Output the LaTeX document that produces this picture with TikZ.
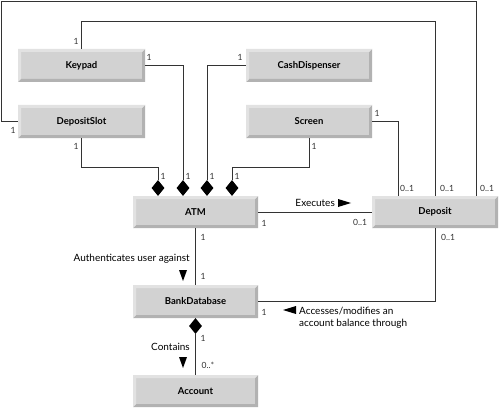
\documentclass[tikz,border=0pt]{standalone}
\usepackage{fontspec}
\setmainfont{Lato}
\usetikzlibrary{shapes.geometric}
\definecolor{boxgray}{HTML}{D2D2D2}
\definecolor{boxlight}{HTML}{E2E2E2}
\definecolor{boxdark}{HTML}{B2B2B2}
\definecolor{linecol}{HTML}{333333}
\begin{document}
\begin{tikzpicture}[x=1pt,y=-1pt,
  umlbox/.style={minimum width=126pt, minimum height=33pt, inner sep=0pt, fill=boxgray,
    font=\bfseries\fontsize{9.5}{11}\selectfont,
    path picture={
      \fill[boxdark] (path picture bounding box.south west) -- (path picture bounding box.south east)
        -- (path picture bounding box.north east) -- ([xshift=-3pt,yshift=-3pt]path picture bounding box.north east)
        -- ([xshift=-3pt,yshift=3pt]path picture bounding box.south east) -- ([xshift=3pt,yshift=3pt]path picture bounding box.south west) -- cycle;
      \fill[boxlight] (path picture bounding box.south west) -- (path picture bounding box.north west)
        -- (path picture bounding box.north east) -- ([xshift=-3pt,yshift=-3pt]path picture bounding box.north east)
        -- ([xshift=3pt,yshift=-3pt]path picture bounding box.north west) -- ([xshift=3pt,yshift=3pt]path picture bounding box.south west) -- cycle;
    }},
  dia/.style={diamond, fill=black, minimum width=13pt, minimum height=16pt, inner sep=0pt},
  conn/.style={draw=linecol, line width=0.8pt},
  mult/.style={font=\fontsize{8.5}{10}\selectfont, inner sep=0pt, text=linecol},
  lbl/.style={font=\fontsize{10}{12.5}\selectfont, inner sep=0pt},
  tri/.style={fill=black}
]
\useasboundingbox (0,0) rectangle (500,409);

% boxes
\node[umlbox, minimum width=127pt] (keypad) at (81.5,65.5) {Keypad};
\node[umlbox, minimum width=127pt] (depositslot) at (81.5,121.5) {DepositSlot};
\node[umlbox] (cashdisp) at (309,65.5) {CashDispenser};
\node[umlbox] (screen) at (309,121.5) {Screen};
\node[umlbox, minimum width=125pt, minimum height=32pt] (atm) at (195.5,212) {ATM};
\node[umlbox, minimum height=32pt] (deposit) at (435,212) {Deposit};
\node[umlbox, minimum width=125pt] (bankdb) at (195.5,301.5) {BankDatabase};
\node[umlbox, minimum width=125pt, minimum height=32pt] (account) at (195.5,391) {Account};

% diamonds
\node[dia] (d1) at (158,188) {};
\node[dia] (d2) at (183,188) {};
\node[dia] (d3) at (207,188) {};
\node[dia] (d4) at (232,188) {};
\node[dia] (d5) at (195.5,326) {};

% connectors
\draw[conn] (depositslot.west) -- (1.5,121.5) -- (1.5,1.5) -- (476,1.5) -- ([xshift=41pt]deposit.north);
\draw[conn] (keypad.north) -- (81.5,21) -- (435,21) -- (deposit.north);
\draw[conn] (screen.east) -- (398,121.5) -- ([xshift=-37pt]deposit.north);
\draw[conn] (keypad.east) -| (d2.north);
\draw[conn] (cashdisp.west) -| (d3.north);
\draw[conn] (depositslot.south) |- (158,167) -- (d1.north);
\draw[conn] (screen.south) |- (232,167) -- (d4.north);
\draw[conn] (atm.east) -- (deposit.west);
\draw[conn] (atm.south) -- (bankdb.north);
\draw[conn] (deposit.south) |- (bankdb.east);
\draw[conn] (d5.south) -- (account.north);

% multiplicities
\node[mult] at (13,130) {1};
\node[mult] at (76,41) {1};
\node[mult] at (149,57) {1};
\node[mult] at (240,57) {1};
\node[mult] at (76,146) {1};
\node[mult] at (163,176) {1};
\node[mult] at (188,176) {1};
\node[mult] at (212,176) {1};
\node[mult] at (237,176) {1};
\node[mult] at (377,113) {1};
\node[mult] at (314,146) {1};
\node[mult] at (407,188) {0..1};
\node[mult] at (447,188) {0..1};
\node[mult] at (487,188) {0..1};
\node[mult] at (264,223) {1};
\node[mult] at (360,222) {0..1};
\node[mult] at (448,237) {0..1};
\node[mult] at (264,312) {1};
\node[mult] at (203,237) {1};
\node[mult] at (203,276) {1};
\node[mult] at (203,338) {1};
\node[mult] at (208,365) {0..*};

% association labels
\node[lbl, anchor=east] at (335,203) {Executes};
\fill[tri] (338,199) -- (351,203) -- (338,207) -- cycle;
\node[lbl, anchor=east] at (190,259) {Authenticates user against};
\fill[tri] (179,270) -- (187,270) -- (183,281) -- cycle;
\node[lbl, anchor=east] at (190,347) {Contains};
\fill[tri] (179,357) -- (187,357) -- (183,368) -- cycle;
\fill[tri] (296,306) -- (283,310) -- (296,314) -- cycle;
\node[lbl, anchor=west, align=left] at (299,317.5) {Accesses/modifies an\\account balance through};
\end{tikzpicture}
\end{document}
